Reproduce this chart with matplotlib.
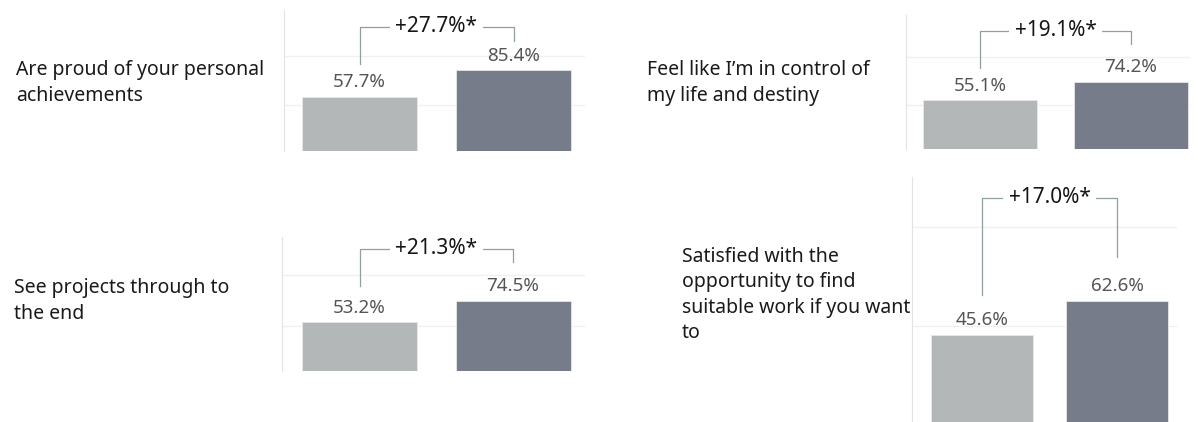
import matplotlib.pyplot as plt

W, H = 1198, 422

questions = [
    "Are proud of your personal\nachievements",
    "Feel like I\u2019m in control of\nmy life and destiny",
    "See projects through to\nthe end",
    "Satisfied with the\nopportunity to find\nsuitable work if you want\nto",
]
group_a = [57.7, 55.1, 53.2, 45.6]
group_b = [85.4, 74.2, 74.5, 62.6]
diffs = ["+27.7%*", "+19.1%*", "+21.3%*", "+17.0%*"]

# layout in pixels: axes box, zero line, px per %, bar centers, bar width,
# bracket top / leg ends, question text anchor
panels = [
    dict(box=(284, 10, 585, 150.7), zero=153, scale=0.97, cx=(359.5, 513.5), bw=115,
         br=(27, 64, 41), txt=(16, 83)),
    dict(box=(906, 15, 1190, 148.7), zero=153, scale=0.96, cx=(980, 1131), bw=114,
         br=(31, 68, 44), txt=(647, 83)),
    dict(box=(282, 237, 585, 370.7), zero=376, scale=1.01, cx=(359.5, 513), bw=115,
         br=(249, 286, 262), txt=(14, 301)),
    dict(box=(912, 177, 1177, 422), zero=425, scale=1.98, cx=(982, 1117), bw=102,
         br=(197.7, 295, 257), txt=(682, 295)),
]

plt.rcParams["font.family"] = ["Noto Sans", "DejaVu Sans"]
fig = plt.figure(figsize=(W / 100, H / 100), dpi=100)

for i, p in enumerate(panels):
    l, t, r, b = p["box"]
    ax = fig.add_axes([l / W, 1 - b / H, (r - l) / W, (b - t) / H])
    unit = p["cx"][1] - p["cx"][0]
    to_y = lambda py, p=p: (p["zero"] - py) / p["scale"]

    ax.set_xlim((l - p["cx"][0]) / unit, (r - p["cx"][0]) / unit)
    ax.set_ylim(to_y(b), to_y(t))

    for yg in (50, 100):
        ax.axhline(yg, color="#f0f0f0", lw=1, zorder=0)

    vals = [group_a[i], group_b[i]]
    ax.bar([0, 1], vals, width=p["bw"] / unit, color=["#b3b7b7", "#767c89"],
           edgecolor="#e8e8e8", linewidth=0.6, zorder=2)
    for x, v in zip([0, 1], vals):
        ax.annotate(f"{v:.1f}%", (x, v), xytext=(0, 4), textcoords="offset points",
                    ha="center", va="bottom", fontsize=13.5, color="#555555")

    top, lb, rb = p["br"]
    ax.plot([0, 0, 1, 1], [to_y(lb), to_y(top), to_y(top), to_y(rb)],
            color="#8fa09d", lw=0.9, clip_on=False, zorder=3)
    ax.text(0.5, to_y(top), diffs[i], ha="center", va="center", fontsize=15,
            color="#151515", zorder=4,
            bbox=dict(facecolor="white", edgecolor="none", pad=4))

    for s in ("top", "right", "bottom"):
        ax.spines[s].set_visible(False)
    ax.spines["left"].set_color("#e3e3e3")
    ax.set_xticks([])
    ax.set_yticks([])

    tx, ty = p["txt"]
    fig.text(tx / W, 1 - ty / H, questions[i], ha="left", va="center",
             fontsize=14, color="#1a1a1a", linespacing=1.35)

fig.savefig("out.png", dpi=100)
